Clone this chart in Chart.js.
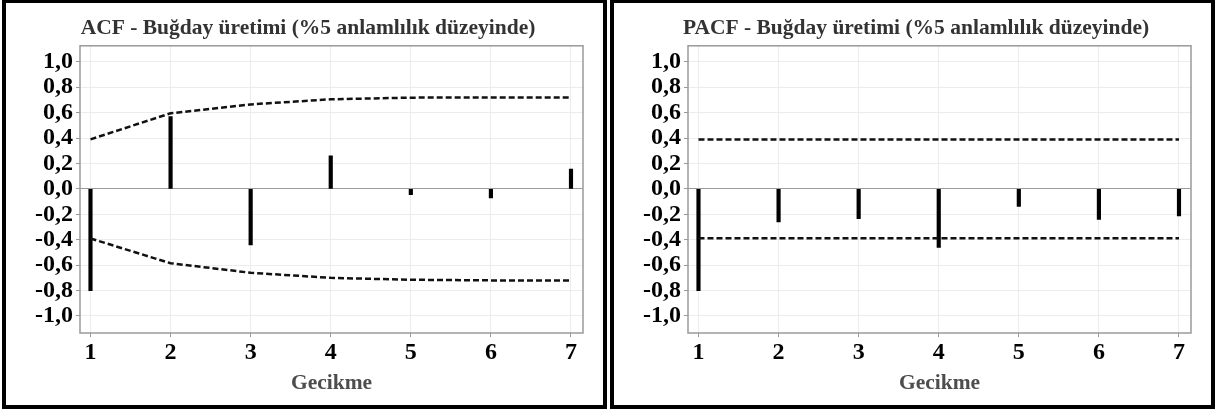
<!DOCTYPE html>
<html>
<head>
<meta charset="utf-8">
<script src="https://cdn.jsdelivr.net/npm/chart.js@4.4.1/dist/chart.umd.min.js"></script>
<style>
  body { margin: 0; background: #fff; width: 1220px; height: 414px; position: relative; overflow: hidden; }
  .panel { position: absolute; top: 0; width: 605px; height: 409px; border: 4px solid #000; border-top-width: 3px; box-sizing: border-box; background: #fff; }
  #p1 { left: 2px; }
  #p2 { left: 610px; }
  canvas { display: block; }
</style>
</head>
<body>
<div class="panel" id="p1"><canvas id="acf" width="597" height="402"></canvas></div>
<div class="panel" id="p2"><canvas id="pacf" width="597" height="402"></canvas></div>
<script>
// gecikmeler (lags)
var lags = [1, 2, 3, 4, 5, 6, 7];
var yTicks = [-1.0, -0.8, -0.6, -0.4, -0.2, 0.0, 0.2, 0.4, 0.6, 0.8, 1.0];

// ACF
var acfValues = [-0.80, 0.57, -0.44, 0.26, -0.045, -0.072, 0.156];
var acfUpper = [0.39, 0.595, 0.665, 0.705, 0.718, 0.72, 0.72];
var acfLower = [-0.39, -0.585, -0.66, -0.70, -0.715, -0.72, -0.72];

// PACF
var pacfValues = [-0.80, -0.26, -0.234, -0.46, -0.138, -0.24, -0.213];
var pacfUpper = [0.388, 0.388, 0.388, 0.388, 0.388, 0.388, 0.388];
var pacfLower = [-0.388, -0.388, -0.388, -0.388, -0.388, -0.388, -0.388];

var serif = "'Liberation Serif', 'Times New Roman', serif";

// plot kenarligi (4 taraf)
var panelBorder = {
    id: 'panelBorder',
    afterDraw: function (chart) {
        var a = chart.chartArea, c = chart.ctx;
        c.save();
        c.strokeStyle = '#9a9a9a';
        c.lineWidth = 1.5;
        c.strokeRect(a.left, a.top, a.right - a.left, a.bottom - a.top);
        c.restore();
    }
};

function pts(ys) {
    return lags.map(function (x, i) { return { x: x, y: ys[i] }; });
}

function ciziGrafik(id, baslik, values, upper, lower) {
    var dashed = {
        type: 'line',
        borderColor: '#111',
        borderWidth: 2.5,
        borderDash: [6, 3],
        pointRadius: 0,
        tension: 0,
        fill: false
    };
    new Chart(document.getElementById(id), {
        type: 'line',
        data: {
            datasets: [
                Object.assign({ data: pts(upper) }, dashed),
                Object.assign({ data: pts(lower) }, dashed),
                {
                    type: 'bar',
                    data: pts(values),
                    backgroundColor: '#000',
                    barThickness: 3.5,
                    grouped: false
                }
            ]
        },
        options: {
            responsive: false,
            animation: false,
            layout: { padding: { left: 27, right: 20, top: 0, bottom: 0 } },
            plugins: {
                legend: { display: false },
                tooltip: { enabled: false },
                title: {
                    display: true,
                    text: baslik,
                    color: '#333',
                    font: { family: serif, size: 21.5, weight: 'bold' },
                    padding: { top: 13, bottom: 4 }
                }
            },
            scales: {
                x: {
                    type: 'linear',
                    min: 0.869,
                    max: 7.15,
                    offset: false,
                    afterBuildTicks: function (s) { s.ticks = lags.map(function (v) { return { value: v }; }); },
                    afterFit: function (s) { s.height = 72; },
                    border: { display: false },
                    grid: { offset: false, color: '#ececec', lineWidth: 1, tickLength: 4, tickColor: '#999' },
                    ticks: {
                        color: '#000',
                        padding: 1,
                        autoSkip: false,
                        maxRotation: 0,
                        font: { family: serif, size: 24, weight: 'bold' },
                        callback: function (v) { return String(v); }
                    },
                    title: {
                        display: true,
                        text: 'Gecikme',
                        color: '#4d4d4d',
                        font: { family: serif, size: 21.5, weight: 'bold' },
                        padding: { top: 0, bottom: 9 }
                    }
                },
                y: {
                    min: -1.134,
                    max: 1.126,
                    afterBuildTicks: function (s) { s.ticks = yTicks.map(function (v) { return { value: v }; }); },
                    afterFit: function (s) { s.width = 47; },
                    border: { display: false },
                    grid: {
                        color: function (ctx) { return ctx.tick && ctx.tick.value === 0 ? '#9a9a9a' : '#ececec'; },
                        lineWidth: 1,
                        tickLength: 4,
                        tickColor: '#999'
                    },
                    ticks: {
                        color: '#000',
                        padding: 3,
                        autoSkip: false,
                        font: { family: serif, size: 24, weight: 'bold' },
                        callback: function (v) { return v.toFixed(1).replace('.', ','); }
                    }
                }
            }
        },
        plugins: [panelBorder]
    });
}

ciziGrafik('acf', 'ACF - Buğday üretimi (%5 anlamlılık düzeyinde)', acfValues, acfUpper, acfLower);
ciziGrafik('pacf', 'PACF - Buğday üretimi (%5 anlamlılık düzeyinde)', pacfValues, pacfUpper, pacfLower);
</script>
</body>
</html>
